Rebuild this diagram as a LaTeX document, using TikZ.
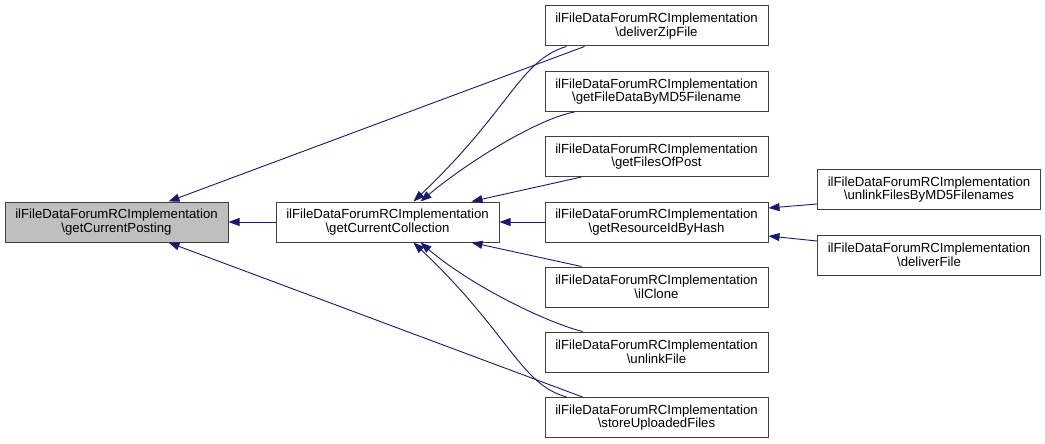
\documentclass[tikz,border=0pt]{standalone}
\usepackage{fontspec}
\setmainfont{Liberation Sans}
\usetikzlibrary{arrows.meta}
\definecolor{edgecol}{HTML}{191970}
\definecolor{boxline}{HTML}{404040}
\begin{document}
\begin{tikzpicture}[x=1pt,y=-1pt,
  fn/.style={draw=boxline,line width=1pt,fill=white,minimum width=223pt,minimum height=40pt,inner sep=0pt,align=center,font=\fontsize{13.2}{13.6}\selectfont},
  cur/.style={fn,fill=black!25},
  edge/.style={draw=edgecol,line width=0.9pt,-{Triangle[length=11pt,width=8pt]}}]
\useasboundingbox (0,0) rectangle (1045,444);
\node[cur] (A) at (116.5,222) {ilFileDataForumRCImplementation\\\textbackslash getCurrentPosting};
\node[fn] (B) at (387.5,222) {ilFileDataForumRCImplementation\\\textbackslash getCurrentCollection};
\node[fn] (C1) at (656.5,26) {ilFileDataForumRCImplementation\\\textbackslash deliverZipFile};
\node[fn] (C2) at (656.5,91.5) {ilFileDataForumRCImplementation\\\textbackslash getFileDataByMD5Filename};
\node[fn] (C3) at (656.5,156.5) {ilFileDataForumRCImplementation\\\textbackslash getFilesOfPost};
\node[fn] (C4) at (656.5,222) {ilFileDataForumRCImplementation\\\textbackslash getResourceIdByHash};
\node[fn] (C5) at (656.5,287) {ilFileDataForumRCImplementation\\\textbackslash ilClone};
\node[fn] (C6) at (656.5,352) {ilFileDataForumRCImplementation\\\textbackslash unlinkFile};
\node[fn] (C7) at (656.5,417.5) {ilFileDataForumRCImplementation\\\textbackslash storeUploadedFiles};
\node[fn] (D1) at (929,189.5) {ilFileDataForumRCImplementation\\\textbackslash unlinkFilesByMD5Filenames};
\node[fn] (D2) at (929,255) {ilFileDataForumRCImplementation\\\textbackslash deliverFile};
% edges into A
\draw[edge] (B.west) -- (A.east);
\draw[edge] ([xshift=40pt]C1.south west) -- ([xshift=164pt]A.north west);
\draw[edge] ([xshift=38pt]C7.north west) -- ([xshift=164pt]A.south west);
% edges into B
\draw[edge] (C4.west) -- (B.east);
\draw[edge] ([xshift=22pt]C1.south west) .. controls (520,60) and (510,110) .. ([xshift=138pt]B.north west);
\draw[edge] ([xshift=30pt]C2.south west) .. controls (540,118) and (470,160) .. ([xshift=145pt]B.north west);
\draw[edge] ([xshift=37pt]C3.south west) -- ([xshift=196pt]B.north west);
\draw[edge] ([xshift=37pt]C5.north west) -- ([xshift=196pt]B.south west);
\draw[edge] ([xshift=38pt]C6.north west) .. controls (545,322) and (470,285) .. ([xshift=145pt]B.south west);
\draw[edge] ([xshift=22pt]C7.north west) .. controls (520,384) and (510,334) .. ([xshift=138pt]B.south west);
% edges into C4
\draw[edge] ([yshift=6pt]D1.south west) -- ([yshift=14pt]C4.east);
\draw[edge] ([yshift=14pt]D2.west) -- ([yshift=-14pt]C4.east);
\end{tikzpicture}
\end{document}
